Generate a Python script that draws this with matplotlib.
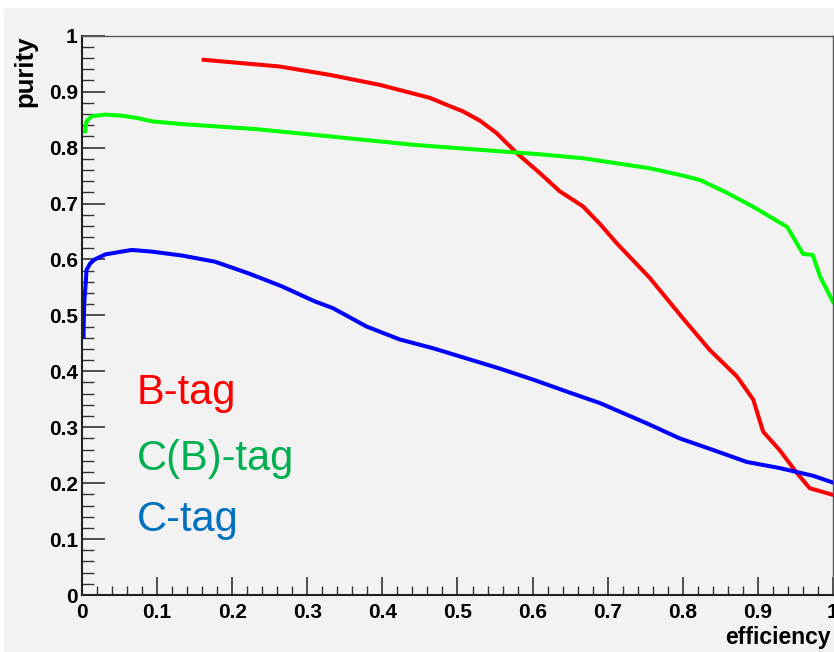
import matplotlib.pyplot as plt
from matplotlib.patches import Rectangle

# B-tag (red)
b_eff = [0.162, 0.263, 0.330, 0.397, 0.463, 0.490, 0.507, 0.530, 0.552, 0.579, 0.610,
         0.636, 0.667, 0.690, 0.712, 0.756, 0.800, 0.836, 0.872, 0.894, 0.898, 0.907,
         0.929, 0.952, 0.969, 1.0]
b_pur = [0.957, 0.945, 0.930, 0.912, 0.889, 0.874, 0.865, 0.848, 0.826, 0.790, 0.754,
         0.722, 0.695, 0.663, 0.629, 0.567, 0.495, 0.438, 0.391, 0.349, 0.331, 0.292,
         0.259, 0.218, 0.191, 0.179]

# C(B)-tag (green)
cb_eff = [0.004, 0.006, 0.013, 0.031, 0.053, 0.073, 0.093, 0.133, 0.232, 0.330, 0.441,
          0.530, 0.610, 0.667, 0.756, 0.800, 0.823, 0.859, 0.894, 0.939, 0.947, 0.960,
          0.973, 0.983, 1.0]
cb_pur = [0.829, 0.847, 0.856, 0.859, 0.857, 0.853, 0.847, 0.842, 0.833, 0.820, 0.805,
          0.796, 0.788, 0.781, 0.763, 0.750, 0.742, 0.719, 0.694, 0.658, 0.640, 0.610,
          0.608, 0.569, 0.524]

# C-tag (blue)
c_eff = [0.002, 0.003, 0.005, 0.006, 0.011, 0.017, 0.031, 0.066, 0.093, 0.133, 0.177,
         0.222, 0.266, 0.310, 0.334, 0.379, 0.423, 0.468, 0.512, 0.556, 0.601, 0.645,
         0.690, 0.752, 0.796, 0.841, 0.885, 0.929, 0.974, 1.0]
c_pur = [0.462, 0.522, 0.558, 0.581, 0.593, 0.600, 0.609, 0.617, 0.614, 0.607, 0.596,
         0.575, 0.552, 0.525, 0.513, 0.480, 0.457, 0.441, 0.423, 0.405, 0.385, 0.364,
         0.343, 0.307, 0.280, 0.259, 0.238, 0.227, 0.213, 0.201]

labels = ["B-tag", "C(B)-tag", "C-tag"]
label_colors = ["#ff0000", "#00b050", "#0070c0"]
tick_vals = [0, 0.1, 0.2, 0.3, 0.4, 0.5, 0.6, 0.7, 0.8, 0.9, 1]
tick_text = ["0", "0.1", "0.2", "0.3", "0.4", "0.5", "0.6", "0.7", "0.8", "0.9", "1"]

bg = "#f2f2f2"
fig = plt.figure(figsize=(8.34, 6.52), dpi=100, facecolor=bg)
# white strips at the top and left edge
fig.patches.append(Rectangle((0, 0.99), 1, 0.01, transform=fig.transFigure, color="white", zorder=0))
fig.patches.append(Rectangle((0, 0), 0.004, 1, transform=fig.transFigure, color="white", zorder=0))

ax = fig.add_axes([0.0983, 0.0874, 0.9005, 0.8578], facecolor=bg)
ax.plot(b_eff, b_pur, color="#ff0000", lw=2.9)
ax.plot(cb_eff, cb_pur, color="#00ff00", lw=2.9)
ax.plot(c_eff, c_pur, color="#0000ff", lw=2.9)

ax.set_xlim(0, 1)
ax.set_ylim(0, 1)
ax.set_xticks(tick_vals)
ax.set_xticklabels(tick_text)
ax.set_yticks(tick_vals)
ax.set_yticklabels(tick_text)
ax.set_xticks([i * 0.02 for i in range(51)], minor=True)
ax.set_yticks([i * 0.02 for i in range(51)], minor=True)

fam = ["Liberation Sans", "DejaVu Sans"]
for t in ax.get_xticklabels() + ax.get_yticklabels():
    t.set_fontfamily(fam)
    t.set_fontweight("bold")
    t.set_fontsize(15)

ax.tick_params(axis="x", which="major", direction="in", length=13, width=1.2, pad=6, color="#333333")
ax.tick_params(axis="x", which="minor", direction="in", length=6.5, width=1.0, color="#333333")
ax.tick_params(axis="y", which="major", direction="in", length=16.5, width=1.2, pad=3, color="#333333")
ax.tick_params(axis="y", which="minor", direction="in", length=8.6, width=1.0, color="#333333")

for s in ["left", "bottom"]:
    ax.spines[s].set_linewidth(1.5)
    ax.spines[s].set_color("#222222")
for s in ["top", "right"]:
    ax.spines[s].set_linewidth(1.0)
    ax.spines[s].set_color("#555555")

ax.set_ylabel("purity", fontfamily=fam, fontweight="bold", fontsize=18.5, loc="top", labelpad=8)
ax.set_xlabel("efficiency", fontfamily=fam, fontweight="bold", fontsize=16.5, ha="right")
ax.xaxis.set_label_coords(0.997, -0.055)

text_y = [0.361, 0.243, 0.134]
for lab, col, ty in zip(labels, label_colors, text_y):
    ax.text(0.073, ty, lab, color=col, fontsize=30, va="center", ha="left", family=fam)

fig.savefig("out.png", dpi=100, facecolor=bg)
